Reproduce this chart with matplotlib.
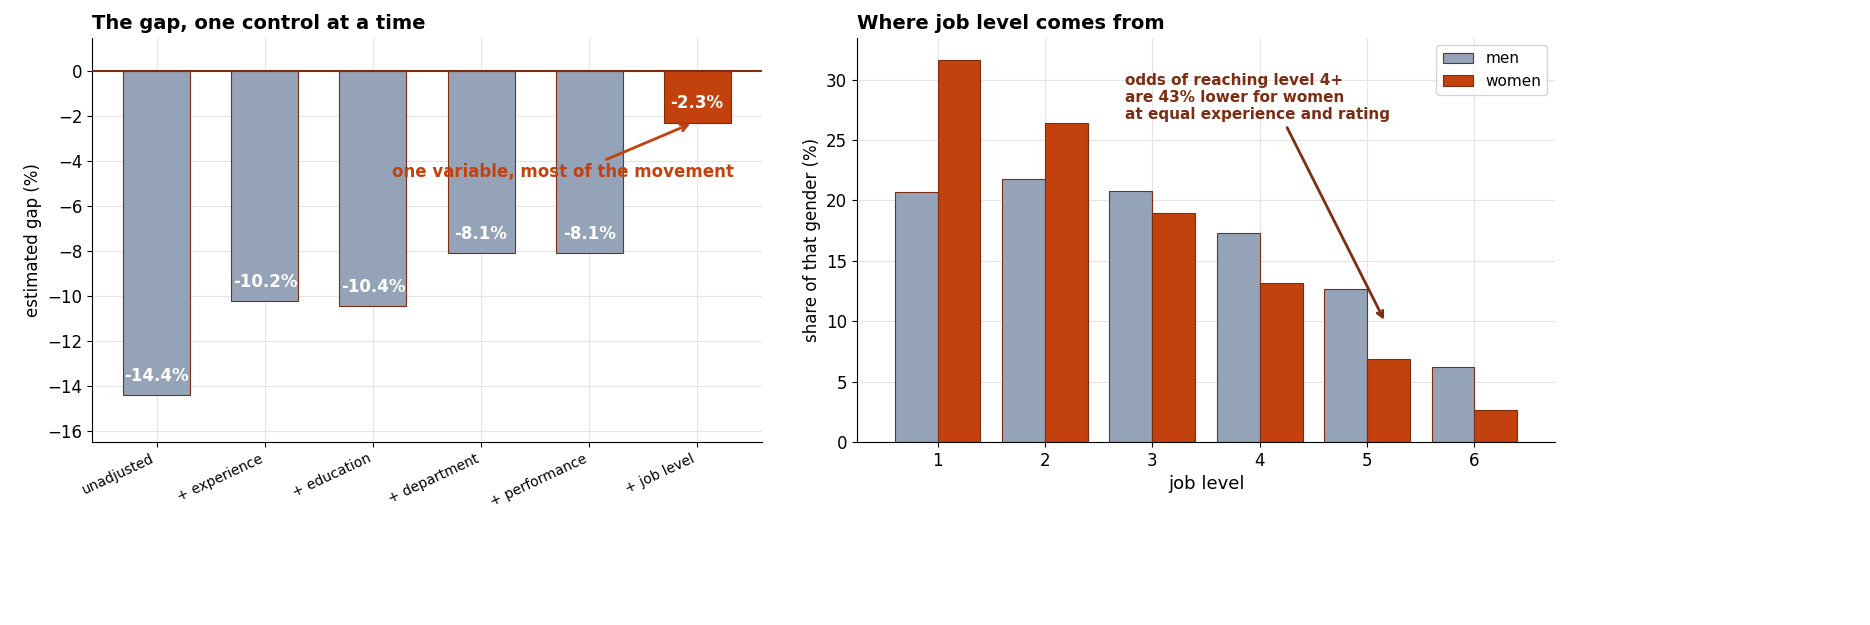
import matplotlib.pyplot as plt
import numpy as np

steps = ["unadjusted", "+ experience", "+ education", "+ department", "+ performance", "+ job level"]
gap = [-14.4, -10.25, -10.45, -8.1, -8.1, -2.3]
gap_labels = ["-14.4%", "-10.2%", "-10.4%", "-8.1%", "-8.1%", "-2.3%"]

levels = [1, 2, 3, 4, 5, 6]
men = [20.7, 21.8, 20.8, 17.3, 12.7, 6.2]
women = [31.6, 26.4, 19.0, 13.2, 6.9, 2.6]

GREY = "#94a3b8"
ORANGE = "#c2410c"
EDGE = "#7c2d12"

fig = plt.figure(figsize=(18.7, 6.25), dpi=100)
ax1 = fig.add_axes([92 / 1870, 0.293, (762 - 92) / 1870, 0.647])
ax2 = fig.add_axes([857 / 1870, 0.293, (1555 - 857) / 1870, 0.647])

# left panel
x = np.arange(len(steps))
cols = [GREY] * 5 + [ORANGE]
ax1.bar(x, gap, width=0.62, color=cols, edgecolor=EDGE, linewidth=0.8, zorder=2)
ax1.axhline(0, color=EDGE, lw=1.5, zorder=3)
for xi, v, lab in zip(x, gap, gap_labels):
    ax1.text(xi, v + 0.45 if v < -3 else v / 2 - 0.25, lab, ha="center", va="bottom" if v < -3 else "center",
             color="white", fontsize=12, fontweight="bold", zorder=4)
ax1.set_ylim(-16.5, 1.5)
ax1.set_xlim(-0.6, 5.6)
ax1.set_yticks(np.arange(-16, 1, 2))
ax1.set_xticks(x)
ax1.set_xticklabels(steps, rotation=25, ha="right", fontsize=10)
ax1.tick_params(axis="y", labelsize=12)
ax1.set_ylabel("estimated gap (%)", fontsize=12)
ax1.set_title("The gap, one control at a time", loc="left", fontsize=14, fontweight="bold")
ax1.grid(True, color="#e5e5e5", lw=0.8, zorder=0)
ax1.annotate("one variable, most of the movement", xy=(4.96, -2.3), xytext=(3.76, -4.5),
             ha="center", va="center", color=ORANGE, fontsize=12, fontweight="bold", zorder=5,
             arrowprops=dict(arrowstyle="->", color=ORANGE, lw=2, relpos=(0.6, 1.0)))
for s in ["top", "right"]:
    ax1.spines[s].set_visible(False)

# right panel
lv = np.array(levels)
ax2.bar(lv - 0.2, men, width=0.4, color=GREY, edgecolor=EDGE, linewidth=0.8, label="men", zorder=2)
ax2.bar(lv + 0.2, women, width=0.4, color=ORANGE, edgecolor=EDGE, linewidth=0.8, label="women", zorder=2)
ax2.set_ylim(0, 33.5)
ax2.set_xlim(0.25, 6.75)
ax2.set_xticks(levels)
ax2.tick_params(labelsize=12)
ax2.set_xlabel("job level", fontsize=13)
ax2.set_ylabel("share of that gender (%)", fontsize=12)
ax2.set_title("Where job level comes from", loc="left", fontsize=14, fontweight="bold")
ax2.grid(True, color="#e5e5e5", lw=0.8, zorder=0)
ax2.annotate("odds of reaching level 4+\nare 43% lower for women\nat equal experience and rating",
             xy=(5.17, 9.9), xytext=(2.75, 30.6), ha="left", va="top", color=EDGE,
             fontsize=11, fontweight="bold",
             arrowprops=dict(arrowstyle="->", color=EDGE, lw=2, relpos=(0.6, 0.0)))
ax2.legend(loc="upper right", fontsize=11)
for s in ["top", "right"]:
    ax2.spines[s].set_visible(False)

fig.savefig("out.png", dpi=100)
